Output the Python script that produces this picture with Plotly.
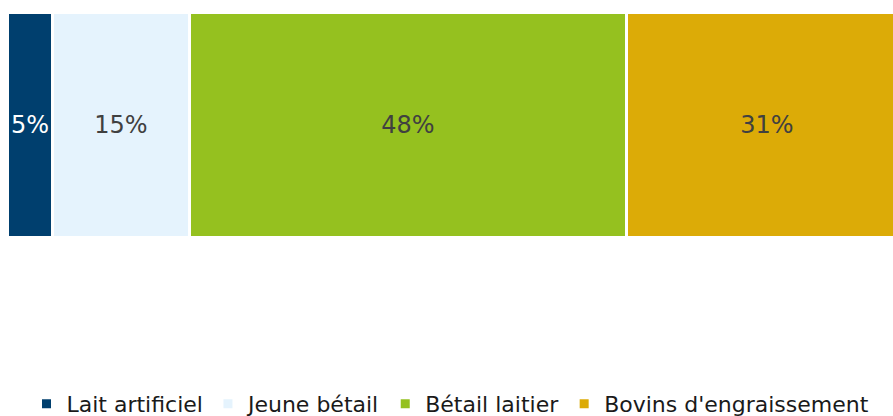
import plotly.graph_objects as go

categories = ["Lait artificiel", "Jeune bétail", "Bétail laitier", "Bovins d'engraissement"]
values = [5, 15, 48, 31]
colors = ["#003F6E", "#E5F3FD", "#95C11F", "#DCAB07"]
text_colors = ["#FFFFFF", "#404040", "#404040", "#404040"]

fig = go.Figure()
for cat, val, col, tc in zip(categories, values, colors, text_colors):
    fig.add_trace(go.Bar(
        x=[val], y=[""], name=cat, orientation="h",
        marker=dict(color=col, line=dict(color="#FFFFFF", width=3)),
        text=[f"{val}%"], textposition="inside", insidetextanchor="middle",
        textangle=0, textfont=dict(color=tc, size=24, family="DejaVu Sans"),
        hoverinfo="skip",
    ))

fig.update_layout(
    barmode="stack", width=893, height=416,
    margin=dict(l=8, r=0, t=13, b=178, autoexpand=False),
    plot_bgcolor="white", paper_bgcolor="white",
    bargap=0,
    uniformtext=dict(minsize=24, mode="show"),
    xaxis=dict(range=[0, 97.3], visible=False, fixedrange=True),
    yaxis=dict(visible=False, range=[-0.5, 0.5]),
    showlegend=True,
    legend=dict(orientation="h", x=0.5, xanchor="center", yref="container",
                y=1 - 404 / 416, yanchor="middle",
                font=dict(size=22, family="DejaVu Sans", color="#1A1A1A"),
                traceorder="normal", itemwidth=30),
)
fig.write_html("out.html", config={"displayModeBar": False},
               post_script="document.body.style.margin='0px';document.body.style.overflow='hidden';")
